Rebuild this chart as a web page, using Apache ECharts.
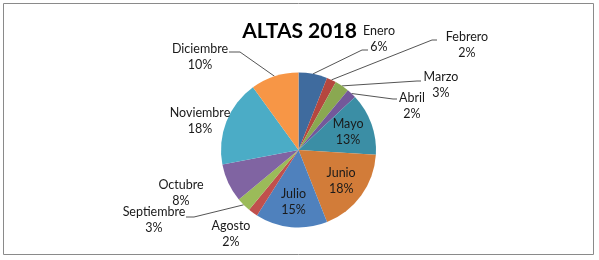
<!DOCTYPE html>
<html><head><meta charset="utf-8">
<script src="https://cdn.jsdelivr.net/npm/echarts@6/dist/echarts.min.js"></script>
<style>html,body{margin:0;padding:0;background:#fff}#c{width:599px;height:260px}</style>
</head><body><div id="c"></div>
<script>
const months = ['Enero','Febrero','Marzo','Abril','Mayo','Junio','Julio','Agosto','Septiembre','Octubre','Noviembre','Diciembre'];
const altas = [6, 2, 3, 2, 13, 18, 15, 2, 3, 8, 18, 10];
const colors = ['#3F6B9E','#B5473F','#8AA851','#73589A','#3B8EA5','#D27C39','#4F81BD','#C0504D','#9BBB59','#8064A2','#4BACC6','#F79646'];
const insideLabels = ['Mayo','Junio','Julio'];
const noLine = ['Agosto','Octubre','Noviembre'];

const CX = 298.5, CY = 150, R = 77.5;
// label anchor offsets relative to the pie centre, plus leader-line bend/end points
const labelSpots = {
  Enero:      {x: 80.5,  y: -111, line: [[63.5,-100],[69.5,-100]]},
  Febrero:    {x: 168.5, y: -105, line: [[133.5,-110],[138.5,-110]]},
  Marzo:      {x: 142.5, y: -65,  line: [[118.5,-69],[122.5,-69]]},
  Abril:      {x: 113.5, y: -44,  line: [[94.5,-51],[98.5,-51]]},
  Agosto:     {x: -67.5, y: 84},
  Septiembre: {x: -144.5,y: 70,   line: [[-104.5,67],[-112.5,67]]},
  Octubre:    {x: -117.5,y: 43},
  Noviembre:  {x: -98.5, y: -29},
  Diciembre:  {x: -98.5, y: -93,  line: [[-58.5,-98],[-69.5,-98]]}
};

const total = altas.reduce((a, b) => a + b, 0);
function midAngle(i) {
  let cum = 0;
  for (let k = 0; k < i; k++) cum += altas[k];
  return (cum + altas[i] / 2) / total * Math.PI * 2;
}

const chart = echarts.init(document.getElementById('c'), null, {renderer: 'canvas'});
chart.setOption({
  animation: false,
  backgroundColor: '#fff',
  title: {
    text: 'ALTAS 2018', left: 'center', top: 16,
    textStyle: {fontFamily: 'Lato', fontWeight: 'bold', fontSize: 21, color: '#000'}
  },
  graphic: [{
    type: 'rect', silent: true,
    shape: {x: 3.5, y: 3.5, width: 590, height: 251},
    style: {fill: 'none', stroke: '#8a8a8a', lineWidth: 1}
  }],
  series: [{
    type: 'pie',
    center: [CX, CY],
    radius: R,
    startAngle: 90,
    clockwise: true,
    avoidLabelOverlap: false,
    itemStyle: {borderWidth: 0},
    label: {
      show: true, position: 'outside',
      formatter: p => p.name + '\n' + Math.round(p.percent) + '%',
      fontFamily: 'Lato', fontSize: 12.5, lineHeight: 16, color: '#1a1a1a',
      align: 'center'
    },
    labelLine: {show: true, lineStyle: {color: '#555', width: 1}, smooth: false},
    labelLayout: function (p) {
      const i = p.dataIndex, name = months[i], a = midAngle(i);
      if (insideLabels.indexOf(name) >= 0) {
        const k = 0.68 * R;
        return {x: CX + k * Math.sin(a), y: CY - k * Math.cos(a), align: 'center', verticalAlign: 'middle'};
      }
      const s = labelSpots[name];
      const res = {x: CX + s.x, y: CY + s.y, align: 'center', verticalAlign: 'middle'};
      if (s.line) {
        const start = [CX + R * Math.sin(a), CY - R * Math.cos(a)];
        res.labelLinePoints = [start].concat(s.line.map(q => [CX + q[0], CY + q[1]]));
      }
      return res;
    },
    data: months.map((m, i) => ({
      name: m, value: altas[i],
      itemStyle: {color: colors[i]},
      labelLine: {show: insideLabels.indexOf(m) < 0 && noLine.indexOf(m) < 0}
    }))
  }]
});
</script></body></html>
